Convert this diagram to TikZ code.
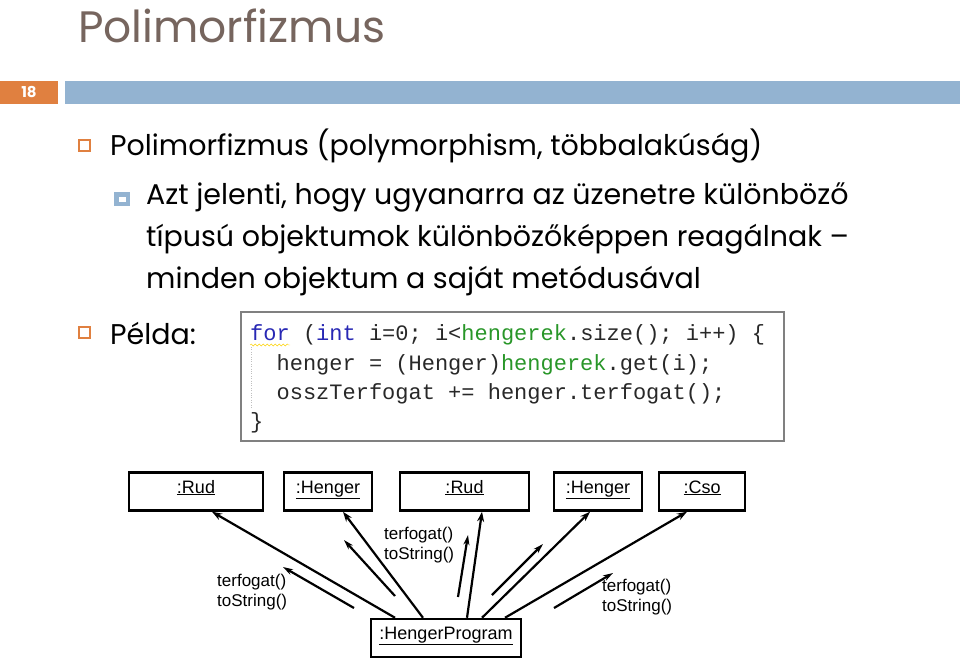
\documentclass[tikz,border=0pt]{standalone}
\usepackage{fontspec}
\setmainfont{Poppins}
\newfontfamily\codefont{Liberation Mono}
\newfontfamily\umlfont{Liberation Sans}
\usetikzlibrary{arrows.meta,positioning,decorations.pathmorphing}

\definecolor{titlebrown}{RGB}{118,101,94}
\definecolor{slideorange}{RGB}{224,128,64}
\definecolor{slideblue}{RGB}{147,179,209}
\definecolor{codeblue}{RGB}{40,40,180}
\definecolor{codegreen}{RGB}{40,150,40}
\definecolor{codegray}{RGB}{40,40,40}

\begin{document}
\begin{tikzpicture}[x=1pt,y=-1pt,
  txt/.style={anchor=base west,inner sep=0pt},
  body/.style={txt,font=\fontsize{28.5}{30}\selectfont},
  code/.style={txt,text=codegray,font=\codefont\fontsize{22}{24}\selectfont},
  obj/.style={draw,line width=2.5pt,minimum height=38pt,inner sep=0pt,
    text height=13pt,text depth=10pt,font=\umlfont\fontsize{18}{20}\selectfont},
  link/.style={line width=2.2pt,-{Stealth[length=10pt,width=7pt]}},
  msg/.style={line width=2.2pt,-{Stealth[length=10pt,width=6pt]}},
  msglabel/.style={anchor=west,align=left,inner sep=0pt,
    font=\umlfont\fontsize{17}{20}\selectfont}]

  \useasboundingbox (0,0) rectangle (960,669);

  % title and header bar
  \node[txt,text=titlebrown,font=\fontsize{44}{50}\selectfont] (title) at (78,43) {Polimorfizmus};
  \fill[slideorange] (0,81) rectangle (58,104);
  \fill[slideblue] (65,81) rectangle (960,104);
  \node[text=white,font=\bfseries\fontsize{15}{16}\selectfont] (pagenum) at (29,92.5) {18};

  % bullets
  \draw[slideorange,line width=1.3pt] (79,140) rectangle (90,151);
  \node[body] (b1) at (110,155) {Polimorfizmus (polymorphism, többalakúság)};
  \fill[slideblue] (114,192) rectangle (130,206);
  \fill[white] (118.5,196.5) rectangle (125.5,201.5);
  \node[body] (b2a) at (146,204) {Azt jelenti, hogy ugyanarra az üzenetre különböző};
  \node[body] (b2b) at (146,246) {típusú objektumok különbözőképpen reagálnak --};
  \node[body] (b2c) at (146,288) {minden objektum a saját metódusával};
  \draw[slideorange,line width=1.3pt] (79,327) rectangle (90,338);
  \node[body] (b3) at (110,344) {Példa:};

  % code snippet
  \draw[gray,line width=1.5pt] (241,312) rectangle (784,441);
  \draw[gray!50,dotted] (251,347) -- (251,408);
  \draw[yellow!70!orange,decorate,decoration={snake,amplitude=1pt,segment length=4pt}]
    (250,345) -- (290,345);
  \node[code] (c1) at (250,340) {\textcolor{codeblue}{for} (\textcolor{codeblue}{int} i=0; i<\textcolor{codegreen}{hengerek}.size(); i++) \{};
  \node[code] (c2) at (250,370) {\ \ henger = (Henger)\textcolor{codegreen}{hengerek}.get(i);};
  \node[code] (c3) at (250,399) {\ \ osszTerfogat += henger.terfogat();};
  \node[code] (c4) at (250,428) {\}};

  % objects
  \node[obj,minimum width=134pt] (rud1) at (196,491.5) {\underline{:Rud}};
  \node[obj,minimum width=88pt] (henger1) at (328,491.5) {\underline{:Henger}};
  \node[obj,minimum width=129pt] (rud2) at (464.5,491.5) {\underline{:Rud}};
  \node[obj,minimum width=88pt] (henger2) at (598,491.5) {\underline{:Henger}};
  \node[obj,minimum width=86pt] (cso) at (702,491.5) {\underline{:Cso}};
  \node[obj,minimum width=150pt] (prog) at (446,638) {\underline{:HengerProgram}};

  % links
  \draw[link] ([xshift=-51pt]prog.north) -- ([xshift=16pt]rud1.south);
  \draw[link] ([xshift=-23pt]prog.north) -- ([xshift=15pt]henger1.south);
  \draw[link] ([xshift=21pt]prog.north) -- ([xshift=17.5pt]rud2.south);
  \draw[link] ([xshift=36pt]prog.north) -- ([xshift=-8pt]henger2.south);
  \draw[link] ([xshift=59pt]prog.north) -- ([xshift=-15pt]cso.south);

  % messages
  \draw[msg] (354,608) -- (283,567);
  \draw[msg] (395,596) -- (344,540);
  \draw[msg] (458,597) -- (468,535);
  \draw[msg] (492,595) -- (543,544);
  \draw[msg] (554,608) -- (613,573);
  \node[msglabel] (lab1) at (217,592) {terfogat()\\toString()};
  \node[msglabel] (lab2) at (384,545) {terfogat()\\toString()};
  \node[msglabel] (lab3) at (602,597) {terfogat()\\toString()};
\end{tikzpicture}
\end{document}
